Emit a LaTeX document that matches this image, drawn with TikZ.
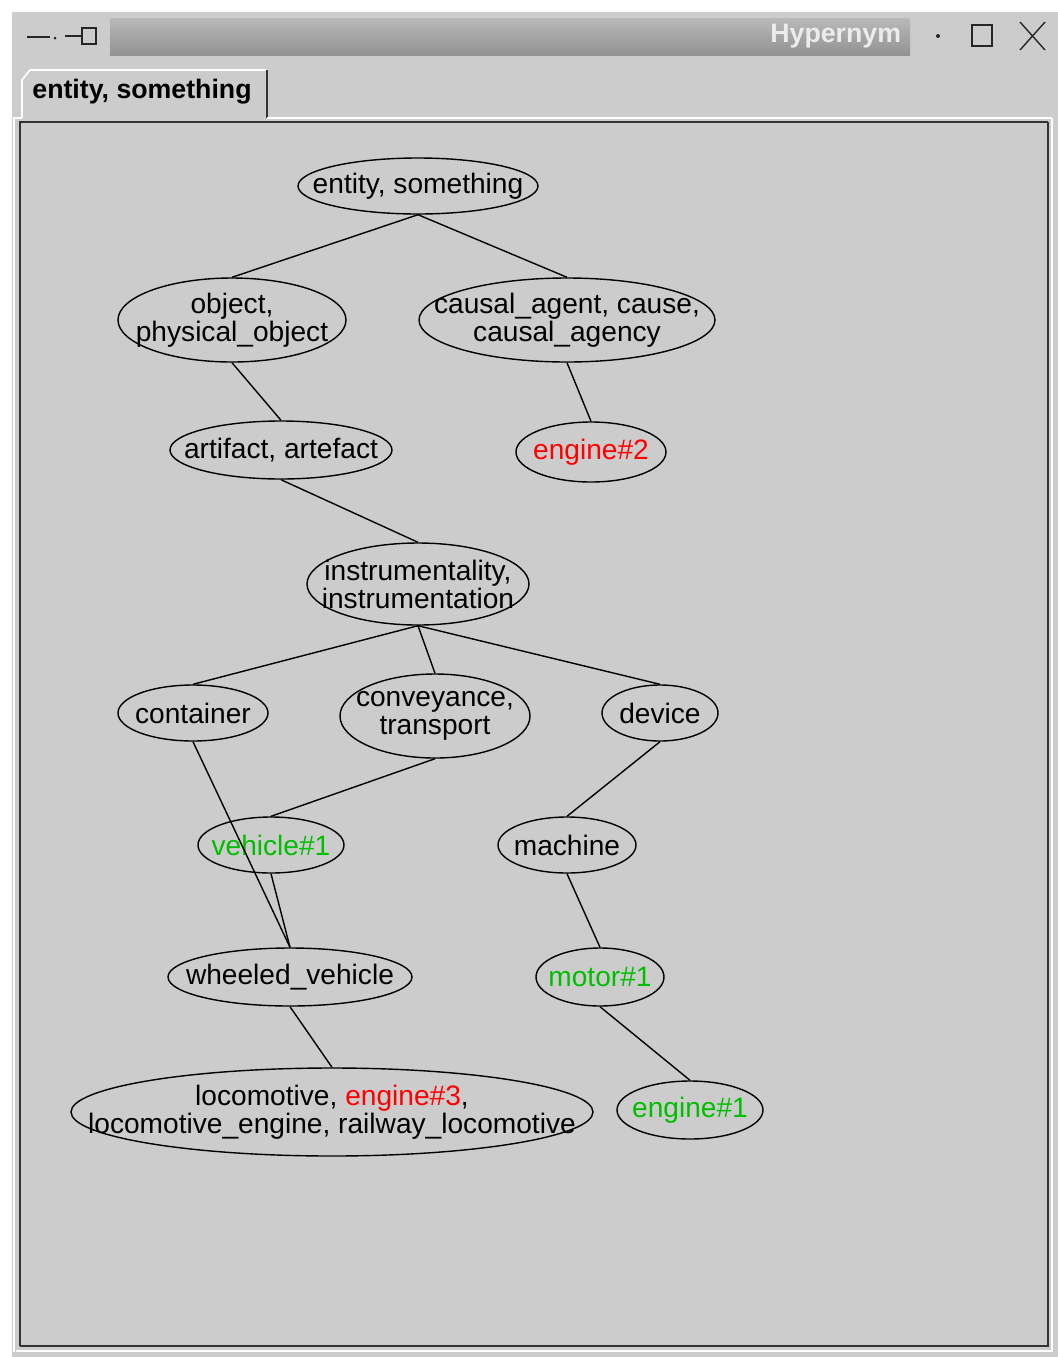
\documentclass[tikz,border=0pt]{standalone}
\usepackage{fontspec}
\setmainfont{Liberation Sans}
\usetikzlibrary{shapes.geometric}
\definecolor{panel}{HTML}{CCCCCC}
\definecolor{hred}{HTML}{FF0000}
\definecolor{hgreen}{HTML}{00BE00}
\tikzset{
    syn/.style 2 args={draw, ellipse, inner sep=-200pt, line width=1pt,
        minimum width=#1*0.025cm, minimum height=#2*0.025cm,
        align=center, font=\fontsize{20}{20}\selectfont},
    link/.style={line width=1pt}}
\begin{document}
\begin{tikzpicture}[x=0.025cm, y=-0.025cm]
    % window
    \useasboundingbox (0,0) rectangle (1058,1357);
    \fill[white] (0,0) rectangle (1058,1357);
    \fill[panel] (10,10) rectangle (1058,1357);
    \draw[white, line width=1pt] (11,1357) -- (11,11) -- (1058,11);
    \shade[top color=gray!55, bottom color=gray!85] (110,18) rectangle (910,55);
    \node[anchor=east, text=gray!15, font=\fontsize{19}{20}\selectfont\bfseries] (title) at (906,36) {Hypernym};
    \draw[line width=1.5pt, gray!30!black] (27,37) -- (50,37) (65,36) -- (82,36);
    \fill[gray!30!black] (55,38) circle (1.5);
    \draw[line width=1.2pt, gray!30!black] (82,28) rectangle (96,44);
    \fill[gray!30!black] (938,36) circle (2);
    \draw[line width=1.2pt, gray!30!black] (972,25) rectangle (992,46);
    \draw[line width=1pt, gray!30!black] (1020,22) -- (1045,50) (1045,22) -- (1020,50);
    % tab and panel
    \draw[white, line width=1.2pt] (22,118) -- (22,80) -- (30,70) -- (267,70);
    \draw[gray!40!black, line width=1.2pt] (267,70) -- (267,118);
    \node[font=\fontsize{19}{20}\selectfont\bfseries] (tab) at (142,92) {entity, something};
    \draw[white, line width=1.2pt] (14,1352) -- (14,118) -- (22,118) (267,118) -- (1052,118);
    \draw[gray!40!black, line width=1.2pt] (20,1346) -- (20,122) -- (1048,122);
    \draw[gray!40!black, line width=1.2pt] (20,1346) -- (1048,1346) -- (1048,122);
    \draw[white, line width=1.2pt] (16,1351) -- (1052,1351) -- (1052,118);
    % synsets
    \node[syn={240}{56}] (ent) at (418,186) {entity, something};
    \node[syn={228}{84}] (obj) at (232,320) {object,\\physical\_object};
    \node[syn={296}{84}] (cau) at (567,320) {causal\_agent, cause,\\causal\_agency};
    \node[syn={222}{58}] (art) at (281,450) {artifact, artefact};
    \node[syn={150}{60}, text=hred] (eng2) at (591,452) {engine\#2};
    \node[syn={222}{82}] (ins) at (418,584) {instrumentality,\\instrumentation};
    \node[syn={150}{56}] (con) at (193,713) {container};
    \node[syn={190}{84}] (cvy) at (435,716) {conveyance,\\transport};
    \node[syn={116}{56}] (dev) at (660,713) {device};
    \node[syn={146}{56}, text=hgreen] (veh) at (271,845) {vehicle\#1};
    \node[syn={138}{56}] (mac) at (567,845) {machine};
    \node[syn={244}{58}] (whe) at (290,977) {wheeled\_vehicle};
    \node[syn={128}{58}, text=hgreen] (mot) at (600,977) {motor\#1};
    \node[syn={522}{88}] (loc) at (332,1112) {locomotive, \textcolor{hred}{engine\#3},\\locomotive\_engine, railway\_locomotive};
    \node[syn={146}{58}, text=hgreen] (eng1) at (690,1110) {engine\#1};
    % hypernym links
    \draw[link] (ent.south) -- (obj.north);
    \draw[link] (ent.south) -- (cau.north);
    \draw[link] (obj.south) -- (art.north);
    \draw[link] (cau.south) -- (eng2.north);
    \draw[link] (art.south) -- (ins.north);
    \draw[link] (ins.south) -- (con.north);
    \draw[link] (ins.south) -- (cvy.north);
    \draw[link] (ins.south) -- (dev.north);
    \draw[link] (cvy.south) -- (veh.north);
    \draw[link] (con.south) -- (whe.north);
    \draw[link] (veh.south) -- (whe.north);
    \draw[link] (dev.south) -- (mac.north);
    \draw[link] (mac.south) -- (mot.north);
    \draw[link] (whe.south) -- (loc.north);
    \draw[link] (mot.south) -- (eng1.north);
\end{tikzpicture}
\end{document}
